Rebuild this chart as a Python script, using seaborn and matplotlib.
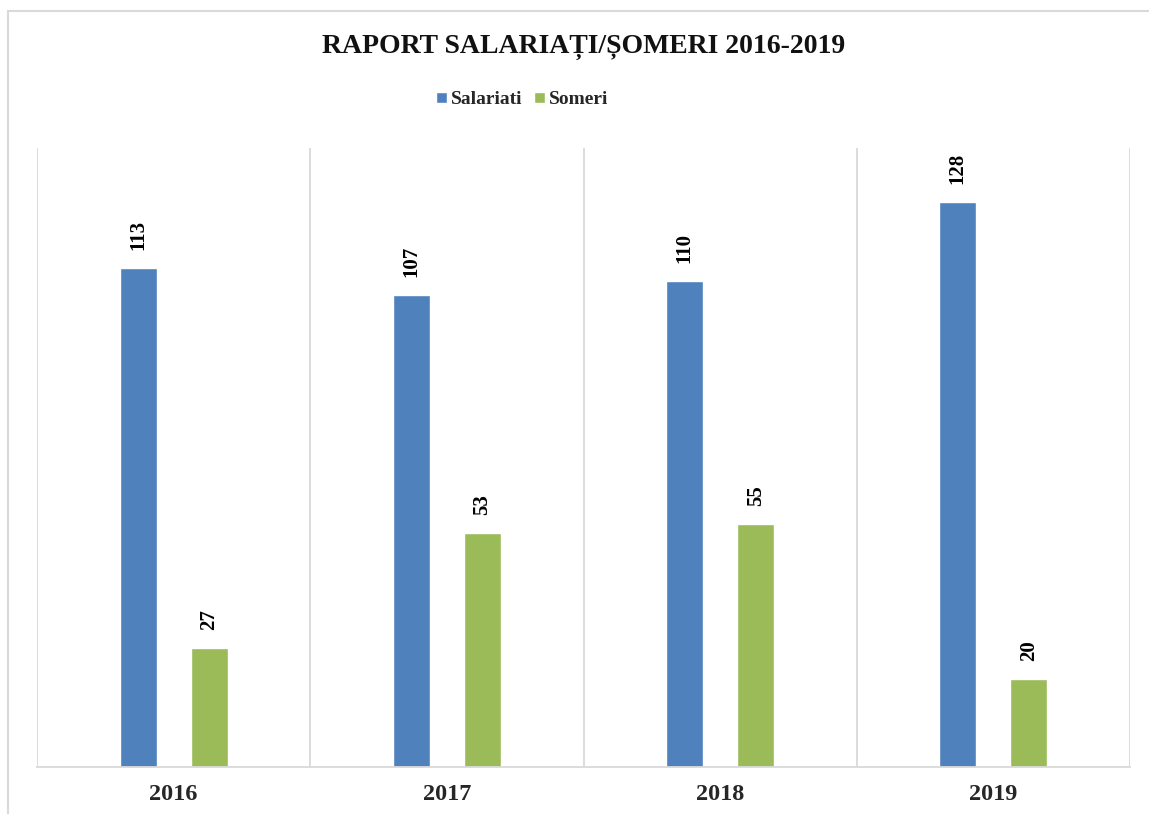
import matplotlib
matplotlib.use("Agg")
import matplotlib.pyplot as plt
import seaborn as sns
import pandas as pd
from matplotlib.patches import Rectangle

years = ["2016", "2017", "2018", "2019"]
salariati = [113, 107, 110, 128]
someri = [27, 53, 55, 20]
series_names = ["Salariati", "Someri"]
colors = ["#4F81BD", "#9BBB59"]
title = "RAPORT SALARIAȚI/ȘOMERI 2016-2019"

df = pd.DataFrame({
    "An": years * 2,
    "Serie": [series_names[0]] * 4 + [series_names[1]] * 4,
    "Valoare": salariati + someri,
})

sns.set_style("white")
plt.rcParams["font.family"] = ["Liberation Serif", "DejaVu Serif"]

fig = plt.figure(figsize=(11.49, 8.14), dpi=100)
ax = fig.add_axes([37 / 1149, 47 / 814, (1130 - 37) / 1149, (767 - 148) / 814])

sns.barplot(data=df, x="An", y="Valoare", hue="Serie", palette=colors,
            saturation=1, width=0.52, gap=0.48, ax=ax, legend=True)

ax.set_ylim(0, 140.2)
ax.set_xlim(-0.5, 3.5)

for cont in ax.containers:
    ax.bar_label(cont, fmt="%d", rotation=90, padding=13, fontsize=15,
                 fontweight="bold", color="black")

# vertical category separators
for xv in [-0.5, 0.5, 1.5, 2.5, 3.5]:
    ax.axvline(xv, color="#d9d9d9", lw=1.3, zorder=0)

for s in ["top", "right", "left"]:
    ax.spines[s].set_visible(False)
ax.spines["bottom"].set_color("#d9d9d9")
ax.spines["bottom"].set_linewidth(1.3)
ax.set_yticks([])
ax.set_xlabel("")
ax.set_ylabel("")
ax.tick_params(axis="x", length=0, pad=12)
ax.set_xticks(range(len(years)))
ax.set_xticklabels(years, fontsize=17.5, fontweight="bold")

handles, labels = ax.get_legend_handles_labels()
ax.get_legend().remove()
fig.legend(handles, labels, loc="center", bbox_to_anchor=(0.4545, 1 - 100 / 814),
           ncol=2, frameon=False, handlelength=0.55, handleheight=0.55,
           handletextpad=0.2, columnspacing=0.6,
           prop={"family": "Liberation Serif", "weight": "bold", "size": 14})

fig.text(0.508, 1 - 47 / 814, title, ha="center", va="center",
         fontsize=20, fontweight="bold", color="#111111")

# chart area border
fig.patches.append(Rectangle((8 / 1149, -0.05), 1.1, 1 - 11 / 814 + 0.05,
                             transform=fig.transFigure, fill=False,
                             edgecolor="#d9d9d9", lw=1.5))

fig.savefig("out.png", dpi=100)
